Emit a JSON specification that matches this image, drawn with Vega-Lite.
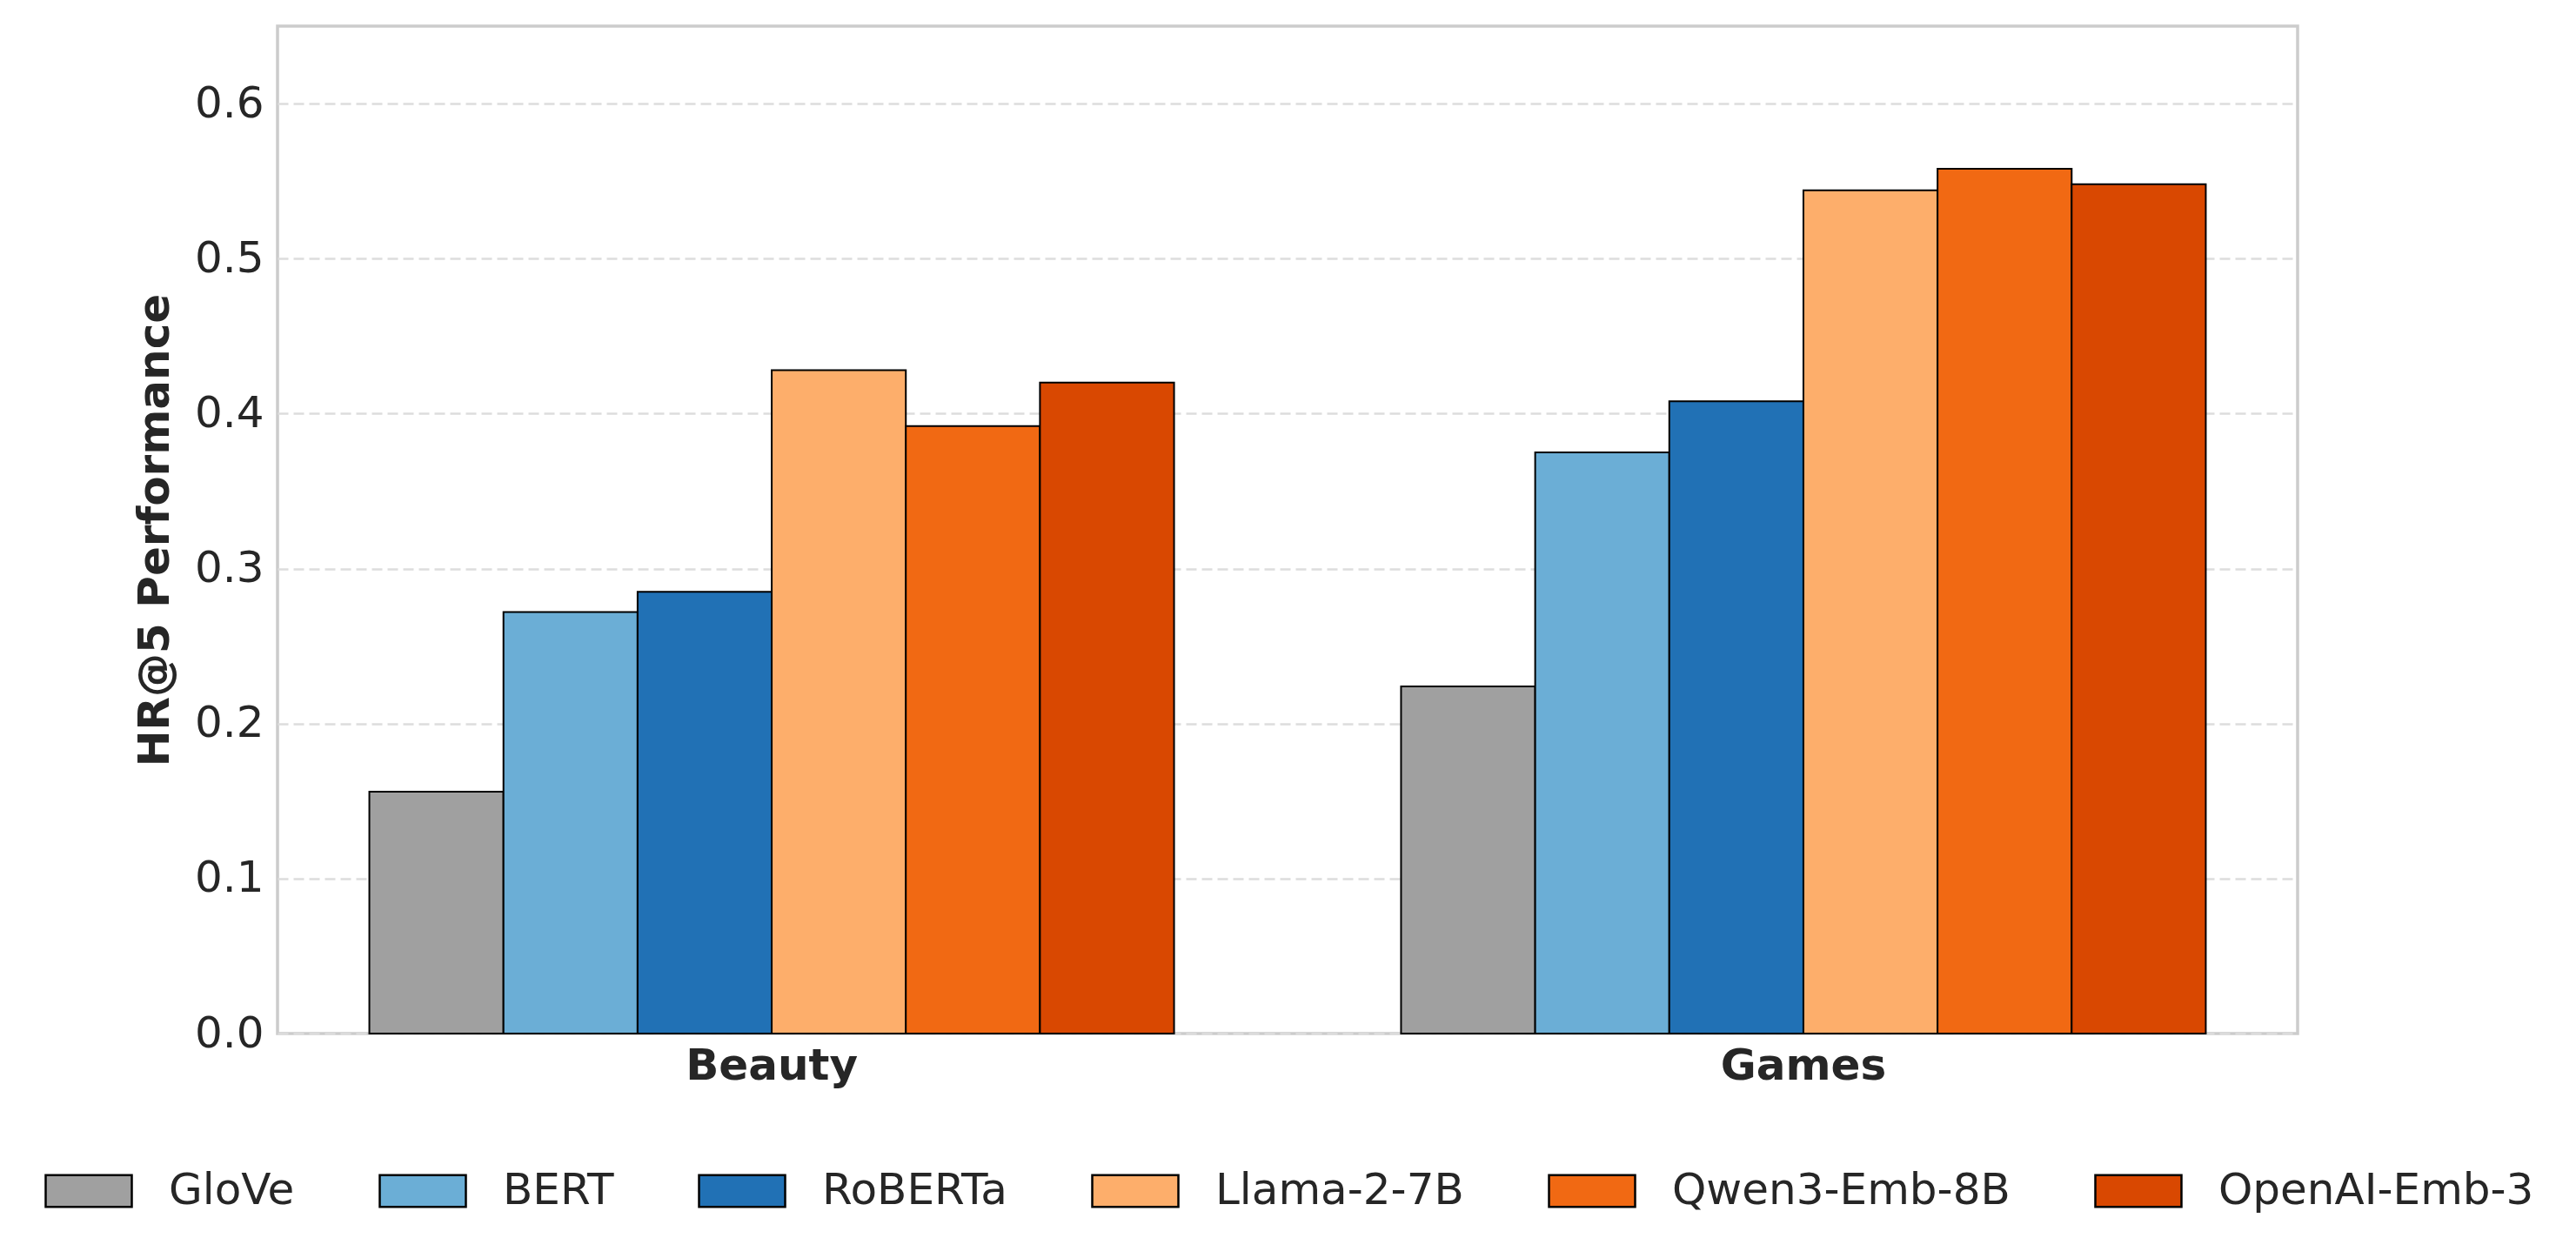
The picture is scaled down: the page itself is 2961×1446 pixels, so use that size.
{
  "$schema": "https://vega.github.io/schema/vega-lite/v6.json",
  "autosize": {"type": "none"},
  "width": 2322,
  "height": 1158,
  "padding": {"left": 319, "top": 30, "right": 320, "bottom": 258},
  "background": "white",
  "config": {
    "font": "DejaVu Sans",
    "view": {"stroke": "#cccccc", "strokeWidth": 3.5},
    "axis": {"domain": false, "ticks": false}
  },
  "data": {
    "values": [
      {"dataset": "Beauty", "model": "GloVe", "hr5": 0.156},
      {"dataset": "Beauty", "model": "BERT", "hr5": 0.272},
      {"dataset": "Beauty", "model": "RoBERTa", "hr5": 0.285},
      {"dataset": "Beauty", "model": "Llama-2-7B", "hr5": 0.428},
      {"dataset": "Beauty", "model": "Qwen3-Emb-8B", "hr5": 0.392},
      {"dataset": "Beauty", "model": "OpenAI-Emb-3", "hr5": 0.420},
      {"dataset": "Games", "model": "GloVe", "hr5": 0.224},
      {"dataset": "Games", "model": "BERT", "hr5": 0.375},
      {"dataset": "Games", "model": "RoBERTa", "hr5": 0.408},
      {"dataset": "Games", "model": "Llama-2-7B", "hr5": 0.544},
      {"dataset": "Games", "model": "Qwen3-Emb-8B", "hr5": 0.558},
      {"dataset": "Games", "model": "OpenAI-Emb-3", "hr5": 0.548}
    ]
  },
  "mark": {"type": "bar", "stroke": "black", "strokeWidth": 2, "opacity": 1},
  "encoding": {
    "x": {
      "field": "dataset",
      "type": "nominal",
      "sort": ["Beauty", "Games"],
      "scale": {"paddingInner": 0.22, "paddingOuter": 0.089},
      "axis": {
        "title": null,
        "labelAngle": 0,
        "labelFont": "DejaVu Sans",
        "labelFontWeight": "bold",
        "labelFontSize": 50,
        "labelColor": "#262626",
        "labelPadding": 12,
        "labelLimit": 1000,
        "grid": false
      }
    },
    "xOffset": {
      "field": "model",
      "type": "nominal",
      "sort": ["GloVe", "BERT", "RoBERTa", "Llama-2-7B", "Qwen3-Emb-8B", "OpenAI-Emb-3"],
      "scale": {"paddingInner": 0, "paddingOuter": 0}
    },
    "y": {
      "field": "hr5",
      "type": "quantitative",
      "scale": {"domain": [0, 0.65], "nice": false, "zero": true},
      "axis": {
        "title": "HR@5 Performance",
        "titleFont": "DejaVu Sans",
        "titleFontWeight": "bold",
        "titleFontSize": 50,
        "titleColor": "#262626",
        "titlePadding": 20,
        "values": [0, 0.1, 0.2, 0.3, 0.4, 0.5, 0.6],
        "format": ".1f",
        "labelFontSize": 50,
        "labelColor": "#262626",
        "labelPadding": 16,
        "grid": true,
        "gridColor": "#dddddd",
        "gridWidth": 2.5,
        "gridDash": [12, 6]
      }
    },
    "fill": {
      "field": "model",
      "type": "nominal",
      "sort": ["GloVe", "BERT", "RoBERTa", "Llama-2-7B", "Qwen3-Emb-8B", "OpenAI-Emb-3"],
      "scale": {
        "domain": ["GloVe", "BERT", "RoBERTa", "Llama-2-7B", "Qwen3-Emb-8B", "OpenAI-Emb-3"],
        "range": ["#a0a0a0", "#6baed6", "#2171b5", "#fdae6b", "#f16913", "#d94801"]
      },
      "legend": {
        "title": null,
        "orient": "none",
        "direction": "horizontal",
        "legendX": -268,
        "legendY": 1288,
        "symbolType": "M-1,-0.367L1,-0.367L1,0.367L-1,0.367Z",
        "symbolSize": 9801,
        "symbolStrokeColor": "black",
        "symbolStrokeWidth": 2.5,
        "symbolOpacity": 1,
        "labelFontSize": 50,
        "labelColor": "#262626",
        "labelOffset": 41,
        "columnPadding": 92,
        "labelLimit": 1000
      }
    }
  }
}
